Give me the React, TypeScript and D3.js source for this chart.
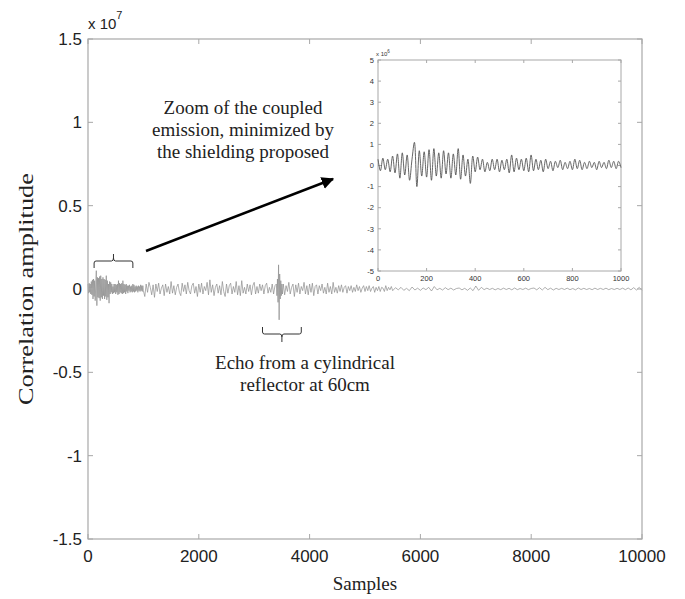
import React from 'react';
import * as d3 from 'd3';

// ---------- data ----------
const mainXTicks = [0, 2000, 4000, 6000, 8000, 10000];
const mainYTicks = [-1.5, -1, -0.5, 0, 0.5, 1, 1.5];
const insetXTicks = [0, 200, 400, 600, 800, 1000];
const insetYTicks = [-5, -4, -3, -2, -1, 0, 1, 2, 3, 4, 5];

// inset (zoom of first 1000 samples), values in units of 1e6, every 10 samples
const insetStep = 10;
const insetValues = [
  0.3, -0.25, 0.35, -0.2, 0.3, -0.3, 0.45, -0.35, 0.55, -0.6,
  0.6, -0.45, 0.5, -0.7, 0.3, 1.1, -1.0, 0.7, -0.5, 0.65,
  -0.55, 0.75, -0.7, 0.8, -0.5, 0.6, -0.6, 0.7, -0.4, 0.6,
  -0.6, 0.55, -0.45, 0.8, -0.65, 0.5, -0.5, 0.3, -0.85, 0.45,
  -0.3, 0.4, -0.2, 0.3, -0.3, 0.15, -0.25, 0.3, -0.2, 0.3,
  -0.3, 0.25, -0.2, 0.3, -0.35, 0.5, -0.3, 0.35, -0.2, 0.3,
  -0.25, 0.35, -0.3, 0.5, -0.25, 0.3, -0.2, 0.25, -0.3, 0.3,
  -0.15, 0.2, -0.25, 0.2, -0.1, 0.25, -0.2, 0.15, -0.15, 0.2,
  -0.2, 0.3, -0.15, 0.25, -0.2, 0.15, -0.15, 0.2, -0.1, 0.15,
  -0.2, 0.2, -0.1, 0.15, -0.15, 0.25, -0.1, 0.2, -0.15, 0.2,
  -0.1,
];

// main trace 1025..5500, units of 1e6, every 25 samples
const traceAStart = 1025;
const traceAStep = 25;
const traceAValues = [
  -0.45, 0.3, -0.2, 0.4, 0.1, -0.35, 0.25, -0.5, 0.3, -0.15,
  0.35, -0.3, 0.05, 0.25, -0.4, 0.3, -0.2, 0.15, -0.3, 0.45,
  -0.25, 0.2, -0.35, 0.1, 0.3, -0.2, -0.4, 0.35, -0.15, 0.25,
  -0.3, 0.4, -0.1, -0.3, 0.2, 0.35, -0.25, 0.15, -0.45, 0.3,
  -0.2, 0.35, -0.3, 0.15, -0.1, 0.4, -0.35, 0.55, -0.2, 0.25,
  -0.4, 0.1, 0.3, -0.25, 0.2, -0.35, 0.45, -0.15, -0.45, 0.3,
  -0.25, 0.2, 0.35, -0.3, 0.15, -0.2, 0.45, -0.35, 0.2, -0.4,
  0.5, -0.25, 0.1, -0.3, 0.3, -0.15, 0.25, -0.35, 0.2, 0.4,
  -0.3, 0.15, -0.25, 0.3, -0.1, 0.25, -0.3, 0.2, 0.35, -0.25,
  0.1, -0.2, 0.3, -0.3, 0.2, -0.15, 0.25, -0.3, 0.2, -0.25,
  0.3, -0.35, 0.2, -0.15, 0.4, -0.3, 0.1, 0.3, -0.45, 0.25,
  -0.2, 0.35, -0.3, 0.15, -0.1, 0.4, -0.3, 0.2, -0.35, 0.3,
  -0.2, 0.35, -0.4, 0.15, 0.25, -0.3, 0.2, -0.1, 0.3, -0.25,
  0.1, -0.3, 0.35, -0.2, 0.15, -0.3, 0.4, -0.2, 0.1, -0.25,
  0.2, -0.15, 0.25, -0.2, 0.1, 0.2, -0.25, 0.15, -0.1, 0.2,
  -0.2, 0.1, -0.15, 0.25, -0.1, 0.15, -0.2, 0.05, 0.2, -0.15,
  0.15, -0.1, 0.2, -0.15, 0.05, 0.15, -0.2, 0.1, -0.1, 0.15,
  -0.15, 0.1, 0.05, -0.15, 0.2, -0.1, 0.1, -0.05, 0.15, -0.1,
];

// main trace 5550..10000, units of 1e6, every 50 samples
const traceBStart = 5550;
const traceBStep = 50;
const traceBValues = [
  0.08, -0.05, 0.1, -0.08, 0.04, -0.1, 0.12, -0.06, 0.05, -0.08,
  0.06, -0.04, 0.1, -0.12, 0.15, -0.05, 0.04, -0.06, 0.08, -0.04,
  0.05, -0.06, 0.03, 0.06, -0.05, 0.04, -0.08, 0.06, -0.1, 0.18,
  -0.08, 0.1, -0.04, 0.05, -0.03, 0.04, -0.05, 0.03, -0.04, 0.05,
  -0.03, 0.04, -0.05, 0.06, -0.04, 0.03, -0.03, 0.05, -0.04, 0.03,
  0.06, -0.05, 0.08, -0.06, 0.1, -0.04, 0.05, -0.06, 0.04, -0.03,
  0.04, -0.03, 0.05, -0.04, 0.03, -0.05, 0.06, -0.03, 0.04, -0.03,
  0.03, -0.04, 0.05, -0.03, 0.04, -0.03, 0.05, -0.04, 0.03, -0.03,
  0.04, -0.03, 0.05, -0.04, 0.06, -0.05, 0.08, -0.06, 0.1, -0.08,
];

// echo burst from the cylindrical reflector, units of 1e6, every 10 samples
const echoStart = 3400;
const echoStep = 10;
const echoValues = [0.3, -0.4, 0.6, -0.8, 1.45, -1.85, 0.9, -0.6, 0.5, -0.4, 0.3, -0.3];

const annotationLines = ['Zoom of the coupled', 'emission, minimized by', 'the shielding proposed'];
const echoLines = ['Echo from a cylindrical', 'reflector at 60cm'];

// ---------- layout ----------
const W = 685;
const H = 599;
const M = { left: 88, right: 642, top: 39, bottom: 539 };
const I = { left: 378, right: 621, top: 60, bottom: 271 };
const SANS = "'Liberation Sans', Arial, sans-serif";
const SERIF = "'Liberation Serif', 'Times New Roman', serif";
const AXIS = '#a8a8a8';

type P = [number, number];

export default function App() {
  const x = d3.scaleLinear().domain([0, 10000]).range([M.left, M.right]);
  const y = d3.scaleLinear().domain([-1.5, 1.5]).range([M.bottom, M.top]);
  const ix = d3.scaleLinear().domain([0, 1000]).range([I.left, I.right]);
  const iy = d3.scaleLinear().domain([-5, 5]).range([I.bottom, I.top]);

  const insetPts: P[] = insetValues.map((v, i) => [i * insetStep, v]);
  const echoEnd = echoStart + echoStep * (echoValues.length - 1);
  const toMain = (start: number, step: number, vals: number[]): P[] =>
    vals.map((v, i) => [start + i * step, v / 10] as P);
  const mainPts: P[] = [
    ...insetPts.map(([s, v]) => [s, v / 10] as P),
    ...toMain(traceAStart, traceAStep, traceAValues).filter(([s]) => s < echoStart || s > echoEnd),
    ...toMain(traceBStart, traceBStep, traceBValues),
    ...toMain(echoStart, echoStep, echoValues),
  ].sort((a, b) => a[0] - b[0]);

  const mainLine = d3
    .line<P>()
    .x((d) => x(d[0]))
    .y((d) => y(d[1]))(mainPts) as string;
  const insetLine = d3
    .line<P>()
    .curve(d3.curveCatmullRom)
    .x((d) => ix(d[0]))
    .y((d) => iy(d[1]))(insetPts) as string;

  // brace over coupled emission
  const bL = x(110), bR = x(810), bM = (bL + bR) / 2, bY = 261;
  const brace1 = `M${bL},268 L${bL},${bY + 2} Q${bL},${bY} ${bL + 2},${bY} L${bM - 2},${bY} Q${bM},${bY} ${bM},${bY - 3} L${bM},254 M${bM},${bY - 3} Q${bM},${bY} ${bM + 2},${bY} L${bR - 2},${bY} Q${bR},${bY} ${bR},${bY + 2} L${bR},268`;
  // brace under echo
  const eL = x(3150), eR = x(3850), eM = (eL + eR) / 2, eY = 334;
  const brace2 = `M${eL},327 L${eL},${eY - 2} Q${eL},${eY} ${eL + 2},${eY} L${eM - 2},${eY} Q${eM},${eY} ${eM},${eY + 3} L${eM},342 M${eM},${eY + 3} Q${eM},${eY} ${eM + 2},${eY} L${eR - 2},${eY} Q${eR},${eY} ${eR},${eY - 2} L${eR},327`;

  const tk = 5;
  return (
    <svg width={W} height={H} style={{ position: 'absolute', left: 0, top: 0, background: '#fff' }}>
      <defs>
        <marker id="arr" viewBox="0 0 10 10" refX="9" refY="5" markerWidth="5" markerHeight="5" orient="auto">
          <path d="M0,0 L10,5 L0,10 z" fill="#000" />
        </marker>
      </defs>
      <rect x={0} y={0} width={W} height={H} fill="#fff" />

      {/* main trace */}
      <path d={mainLine} fill="none" stroke="#8c8c8c" strokeWidth={0.7} />

      {/* main axes box */}
      <rect x={M.left} y={M.top} width={M.right - M.left} height={M.bottom - M.top} fill="none" stroke={AXIS} strokeWidth={1.2} />
      {mainXTicks.map((t) => (
        <g key={'mx' + t}>
          <line x1={x(t)} x2={x(t)} y1={M.bottom} y2={M.bottom - tk} stroke={AXIS} />
          <line x1={x(t)} x2={x(t)} y1={M.top} y2={M.top + tk} stroke={AXIS} />
          <text x={x(t)} y={M.bottom + 23} textAnchor="middle" fontFamily={SANS} fontSize={17} fill="#222">
            {t}
          </text>
        </g>
      ))}
      {mainYTicks.map((t) => (
        <g key={'my' + t}>
          <line x1={M.left} x2={M.left + tk} y1={y(t)} y2={y(t)} stroke={AXIS} />
          <line x1={M.right} x2={M.right - tk} y1={y(t)} y2={y(t)} stroke={AXIS} />
          <text x={M.left - 6} y={y(t) + 6} textAnchor="end" fontFamily={SANS} fontSize={17} fill="#222">
            {t}
          </text>
        </g>
      ))}
      <text x={88} y={29} fontFamily={SANS} fontSize={15} fill="#222">
        x 10
        <tspan dy={-10} fontSize={11}>7</tspan>
      </text>
      <text x={(M.left + M.right) / 2} y={590} textAnchor="middle" fontFamily={SERIF} fontSize={19} fill="#222">
        Samples
      </text>
      <text
        transform={`translate(33,${(M.top + M.bottom) / 2}) rotate(-90)`}
        textAnchor="middle"
        fontFamily={SERIF}
        fontSize={21}
        fill="#222"
        textLength={232}
        lengthAdjust="spacingAndGlyphs"
      >
        Correlation amplitude
      </text>

      {/* inset */}
      <rect x={I.left} y={I.top} width={I.right - I.left} height={I.bottom - I.top} fill="#fff" stroke={AXIS} strokeWidth={1} />
      {insetXTicks.map((t) => (
        <g key={'ix' + t}>
          <line x1={ix(t)} x2={ix(t)} y1={I.bottom} y2={I.bottom - 3} stroke={AXIS} />
          <line x1={ix(t)} x2={ix(t)} y1={I.top} y2={I.top + 3} stroke={AXIS} />
          <text x={ix(t)} y={I.bottom + 10} textAnchor="middle" fontFamily={SANS} fontSize={7.5} fill="#333">
            {t}
          </text>
        </g>
      ))}
      {insetYTicks.map((t) => (
        <g key={'iy' + t}>
          <line x1={I.left} x2={I.left + 3} y1={iy(t)} y2={iy(t)} stroke={AXIS} />
          <line x1={I.right} x2={I.right - 3} y1={iy(t)} y2={iy(t)} stroke={AXIS} />
          <text x={I.left - 4} y={iy(t) + 2.7} textAnchor="end" fontFamily={SANS} fontSize={7.5} fill="#333">
            {t}
          </text>
        </g>
      ))}
      <text x={I.left - 2} y={I.top - 4} fontFamily={SANS} fontSize={6} fill="#333">
        x 10
        <tspan dy={-3} fontSize={4.5}>6</tspan>
      </text>
      <path d={insetLine} fill="none" stroke="#555" strokeWidth={0.9} />

      {/* annotations */}
      <path d={brace1} fill="none" stroke="#333" strokeWidth={1} />
      <path d={brace2} fill="none" stroke="#333" strokeWidth={1} />
      <line x1={146} y1={251} x2={333} y2={179} stroke="#000" strokeWidth={2.5} markerEnd="url(#arr)" />
      {annotationLines.map((s, i) => (
        <text key={s} x={243} y={114 + i * 22} textAnchor="middle" fontFamily={SERIF} fontSize={19} fill="#222">
          {s}
        </text>
      ))}
      {echoLines.map((s, i) => (
        <text key={s} x={305} y={369 + i * 22} textAnchor="middle" fontFamily={SERIF} fontSize={19} fill="#222">
          {s}
        </text>
      ))}
    </svg>
  );
}
